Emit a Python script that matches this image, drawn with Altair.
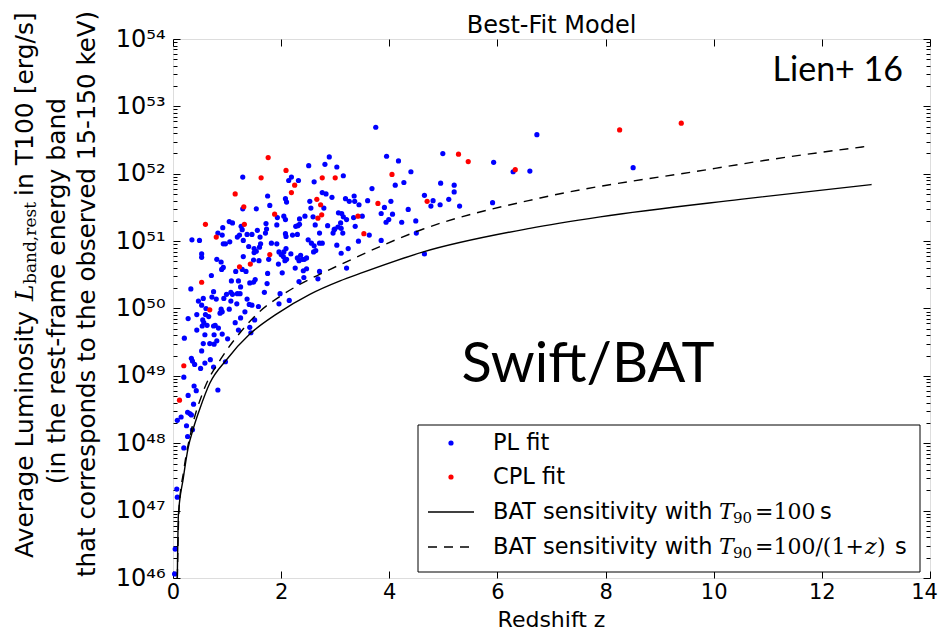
import altair as alt
import pandas as pd

# ---------------- data (redshift z, log10 luminosity) ----------------
pl_z = [2.89, 2.51, 2.81, 3.03, 1.29, 2.19, 2.14, 2.32, 2.61, 2.76, 2.83, 2.94, 1.75, 2.53, 2.55, 1.79, 2.08, 2.10,
        1.54, 1.29, 2.79, 3.06, 1.93, 2.05, 2.08, 2.34, 2.44, 2.59, 3.05, 2.86, 2.99, 1.04, 1.10, 0.92, 1.26, 1.28,
        1.23, 0.91, 0.83, 1.19, 1.37, 1.46, 1.56, 1.72, 1.71, 1.73, 1.92, 2.08, 2.09, 2.21, 2.30, 2.31, 2.34, 2.27,
        2.63, 2.71, 2.96, 2.98, 0.35, 0.49, 0.93, 1.05, 0.97, 1.30, 1.40, 1.50, 1.61, 1.62, 1.60, 1.50, 1.54, 1.82,
        1.92, 1.96, 2.00, 2.05, 2.09, 2.04, 2.10, 2.18, 2.30, 2.36, 2.39, 2.47, 2.50, 2.56, 2.61, 2.64, 2.60, 2.71,
        2.76, 3.03, 0.53, 0.53, 0.81, 0.89, 0.93, 1.16, 1.30, 1.28, 1.35, 1.49, 1.59, 1.77, 1.95, 2.07, 2.33, 2.43,
        0.71, 0.90, 1.08, 1.21, 1.25, 1.42, 1.52, 1.49, 1.75, 1.74, 2.02, 2.26, 2.41, 2.47, 2.42, 2.33, 2.68, 2.71,
        0.33, 0.75, 0.72, 0.80, 0.94, 0.99, 1.07, 1.10, 1.19, 1.24, 1.07, 0.56, 0.47, 0.53, 0.61, 0.44, 0.60, 0.66,
        0.55, 0.57, 0.54, 0.44, 0.63, 0.75, 0.84, 0.78, 0.76, 0.59, 0.89, 0.91, 0.87, 1.04, 1.18, 1.37, 1.41, 1.46,
        1.58, 1.33, 1.25, 1.15, 1.21, 1.42, 1.44, 1.51, 1.69, 1.98, 2.15, 1.96, 0.28, 0.21, 1.01, 0.91, 0.81, 0.68,
        0.56, 0.76, 0.53, 0.34, 0.36, 0.40, 0.51, 0.59, 0.69, 0.75, 0.97, 0.20, 0.39, 0.28, 0.43, 0.83, 0.38, 0.27,
        0.31, 0.34, 0.15, 0.08, 0.25, 0.36, 0.27, 0.20, 0.07, 0.08, 0.04, 0.03,
        3.75, 6.73, 3.95, 4.17, 5.93, 4.99, 6.29, 6.60, 4.40, 3.15, 3.68, 4.11, 4.27, 4.95, 5.20, 5.20, 4.65, 4.81,
        4.77, 4.94, 5.10, 5.30, 5.91, 3.19, 3.26, 3.35, 3.36, 3.44, 3.60, 4.03, 3.91, 3.85, 4.06, 4.35, 3.99, 3.94,
        4.23, 4.49, 4.50, 3.12, 3.15, 3.34, 3.50, 3.21, 3.10, 3.11, 3.14, 3.37, 3.63, 3.43, 3.85, 3.24, 3.11, 3.21,
        4.65, 8.51]
pl_logL = [52.25, 52.12, 52.14, 52.10, 51.95, 51.95, 51.90, 51.90, 51.88, 51.72, 51.70, 51.65, 51.67, 51.59, 51.49,
           51.53, 51.63, 51.58, 51.48, 51.48, 51.49, 51.42, 51.35, 51.37, 51.32, 51.33, 51.37, 51.36, 51.21, 51.23,
           51.18, 51.29, 51.27, 51.20, 51.22, 51.17, 51.09, 51.09, 51.12, 51.06, 51.10, 51.10, 51.16, 51.26, 51.12,
           51.18, 51.24, 51.11, 51.07, 51.09, 51.10, 51.23, 51.25, 51.22, 51.24, 51.12, 51.12, 51.17, 51.02, 51.01,
           50.96, 50.99, 50.96, 51.01, 50.92, 50.89, 51.06, 50.96, 50.91, 50.83, 50.85, 50.97, 50.96, 50.84, 50.80,
           50.84, 50.89, 50.77, 50.73, 50.81, 50.75, 50.79, 50.73, 50.75, 51.02, 50.97, 50.93, 50.86, 50.84, 50.97,
           50.97, 50.94, 50.81, 50.76, 50.73, 50.69, 50.61, 50.55, 50.77, 50.58, 50.55, 50.72, 50.71, 50.73, 50.66,
           50.71, 50.71, 50.73,
           50.49, 50.58, 50.41, 50.41, 50.32, 50.38, 50.43, 50.39, 50.52, 50.37, 50.53, 50.60, 50.56, 50.59, 50.46,
           50.40, 50.44, 50.55, 50.29, 50.25, 50.17, 50.14, 50.15, 50.21, 50.24, 50.21, 50.22, 50.22, 50.11, 50.15,
           50.11, 50.05, 50.00, 49.91, 49.91, 49.88, 49.83, 49.79, 49.74, 49.68, 49.75, 49.74, 49.71, 49.75, 49.61,
           49.61, 49.99, 49.95, 49.93, 49.99, 50.07, 50.14, 50.06, 50.05, 50.03, 49.95, 49.86, 49.79, 49.68, 49.72,
           49.64, 49.83, 50.24, 50.22, 50.12, 50.07, 49.85, 49.56, 49.55, 49.62, 49.52, 49.48, 49.48, 49.47, 49.37,
           49.26, 49.22, 49.17, 49.11, 49.19, 49.24, 49.13, 49.21, 48.98, 48.85, 48.71, 48.78, 48.79, 48.58, 48.46,
           48.44, 48.42, 48.39, 48.34, 48.26, 48.20, 48.10, 47.93, 47.32, 47.20, 46.43, 46.06,
           52.69, 52.58, 52.26, 52.19, 52.17, 52.30, 52.03, 52.04, 52.03, 51.97, 51.78, 51.83, 51.87, 51.86, 51.83,
           51.73, 51.68, 51.60, 51.52, 51.54, 51.62, 51.52, 51.57, 51.63, 51.59, 51.67, 51.59, 51.54, 51.60, 51.59,
           51.50, 51.41, 51.40, 51.47, 51.32, 51.28, 51.28, 51.30, 51.12, 51.41, 51.36, 51.35, 51.37, 51.32, 51.27,
           51.19, 51.12, 51.22, 51.09, 51.00, 51.01, 50.89, 50.82, 50.60, 50.81, 52.09]

cpl_z = [1.76, 2.09, 1.63, 2.76, 3.00, 2.25, 2.19, 1.15, 1.31, 2.66, 2.73, 1.88, 2.75, 2.68, 0.60, 1.32, 0.80, 1.79,
         1.43, 1.23, 0.53, 0.68, 0.20, 0.12, 5.28, 5.46, 6.33, 4.05, 3.79, 4.70, 3.42, 3.53, 8.26, 9.40]
cpl_logL = [52.24, 52.05, 51.94, 51.94, 51.94, 51.83, 51.72, 51.70, 51.51, 51.62, 51.54, 51.40, 51.39, 51.34, 51.25,
            51.25, 51.06, 50.80, 50.66, 50.62, 50.39, 49.98, 49.15, 48.64, 52.29, 52.18, 52.06, 51.99, 51.56, 51.59,
            51.37, 51.11, 52.65, 52.75]

solid_z = [0.08, 0.10, 0.19, 0.28, 0.38, 0.50, 0.68, 0.99, 1.42, 1.92, 2.53, 3.09, 3.46, 4.63, 6.60, 7.90,
           10.49, 12.92]
solid_logL = [46.0, 46.94, 47.48, 47.93, 48.23, 48.52, 48.89, 49.24, 49.62, 49.92, 50.21, 50.41, 50.52, 50.84,
              51.19, 51.36, 51.62, 51.84]

dashed_z = [0.08, 0.11, 0.20, 0.35, 0.56, 0.90, 1.24, 1.61, 1.98, 2.35, 2.72, 3.09, 4.63, 6.79, 9.87, 11.04,
            12.86]
dashed_logL = [46.0, 47.0, 47.6, 48.23, 48.77, 49.27, 49.64, 49.96, 50.18, 50.36, 50.51, 50.65, 51.18, 51.64,
               52.06, 52.21, 52.41]

x_ticks = [0, 2, 4, 6, 8, 10, 12, 14]
y_exps = [46, 47, 48, 49, 50, 51, 52, 53, 54]

# ---------------- build tables ----------------
pl = pd.DataFrame({"z": pl_z, "L": [10.0 ** v for v in pl_logL]})
cpl = pd.DataFrame({"z": cpl_z, "L": [10.0 ** v for v in cpl_logL]})
solid = pd.DataFrame({"z": solid_z, "L": [10.0 ** v for v in solid_logL]})
dashed = pd.DataFrame({"z": dashed_z, "L": [10.0 ** v for v in dashed_logL]})

W, H = 757, 539
FONT = "DejaVu Sans"
SERIF = "DejaVu Serif"
BLUE, RED = "#0000ff", "#ff0000"

xs = alt.Scale(domain=[0, 14], nice=False, zero=False)
ys = alt.Scale(type="log", domain=[1e46, 1e54], nice=False)

y_major = [10.0 ** e for e in y_exps]
y_minor = [m * 10.0 ** e for e in y_exps[:-1] for m in range(2, 10)]

SUP = str.maketrans("0123456789", "⁰¹²³⁴⁵⁶⁷⁸⁹")
label_expr = "''"
for e in reversed(y_exps):
    label_expr = f"round(log(datum.value)/LN10) == {e} ? '10{str(e).translate(SUP)}' : ({label_expr})"


def ax(orient, values, size, labels=False, **kw):
    return alt.Axis(orient=orient, values=values, tickSize=size, offset=-size, labels=labels,
                    domain=False, grid=False, tickColor="black", tickWidth=1, title=None, **kw)


lab = dict(labelFont=FONT, labelColor="black", labelFlush=False, labelOverlap=False)

blue = alt.Chart(pl).mark_circle(size=27, color=BLUE, opacity=1).encode(
    x=alt.X("z:Q", scale=xs, axis=ax("bottom", x_ticks, 7, labels=True, labelPadding=3, labelFontSize=21,
                                      labelOffset={"condition": {"test": "datum.value == 14", "value": -6},
                                                   "value": 0},
                                      **lab)),
    y=alt.Y("L:Q", scale=ys, axis=ax("left", y_major, 7, labels=True, labelExpr=label_expr,
                                      labelPadding=8, labelFontSize=24, **lab)),
)
red = alt.Chart(cpl).mark_circle(size=27, color=RED, opacity=1).encode(
    x=alt.X("z:Q", scale=xs, axis=None), y=alt.Y("L:Q", scale=ys, axis=None))

frame_major = alt.Chart(pl).mark_point(opacity=0).encode(
    x=alt.X("z:Q", scale=xs, axis=ax("top", x_ticks, 7)),
    y=alt.Y("L:Q", scale=ys, axis=ax("right", y_major, 7)))
minor_left = alt.Chart(pl).mark_point(opacity=0).encode(
    x=alt.X("z:Q", scale=xs, axis=None),
    y=alt.Y("L:Q", scale=ys, axis=ax("left", y_minor, 4)))
minor_right = alt.Chart(pl).mark_point(opacity=0).encode(
    x=alt.X("z:Q", scale=xs, axis=None),
    y=alt.Y("L:Q", scale=ys, axis=ax("right", y_minor, 4)))

sol = alt.Chart(solid).mark_line(color="black", strokeWidth=1.4, interpolate="monotone").encode(
    x=alt.X("z:Q", scale=xs, axis=None), y=alt.Y("L:Q", scale=ys, axis=None))
das = alt.Chart(dashed).mark_line(color="black", strokeWidth=1.4, strokeDash=[9, 7],
                                  interpolate="monotone").encode(
    x=alt.X("z:Q", scale=xs, axis=None), y=alt.Y("L:Q", scale=ys, axis=None))

one = alt.Data(values=[{}])


def txt(s, x, y, size=22, font=FONT, style="normal", align="left", baseline="middle", angle=None):
    kw = dict(text=s, fontSize=size, font=font, fontStyle=style, align=align, baseline=baseline, color="black")
    if angle is not None:
        kw["angle"] = angle
    return alt.Chart(one).mark_text(**kw).encode(x=alt.value(x), y=alt.value(y))


# legend
leg_box = alt.Chart(one).mark_rect(fill="white", stroke="black", strokeWidth=1).encode(
    x=alt.value(245), x2=alt.value(747), y=alt.value(386), y2=alt.value(533))
leg_pl = alt.Chart(one).mark_circle(size=27, color=BLUE, opacity=1).encode(x=alt.value(278), y=alt.value(404))
leg_cpl = alt.Chart(one).mark_circle(size=27, color=RED, opacity=1).encode(x=alt.value(278), y=alt.value(438))
leg_sol = alt.Chart(one).mark_rule(color="black", strokeWidth=1.4).encode(
    x=alt.value(255), x2=alt.value(301), y=alt.value(473))
leg_das = alt.Chart(one).mark_rule(color="black", strokeWidth=1.4, strokeDash=[9, 7]).encode(
    x=alt.value(255), x2=alt.value(301), y=alt.value(508))

legend_texts = [
    txt("PL fit", 320, 404, size=22.5),
    txt("CPL fit", 320, 438, size=22.5),
    txt("BAT sensitivity with", 320, 473, size=22.5),
    txt("T", 546, 473, font=SERIF, style="italic"),
    txt("90", 560, 479, size=15, font=SERIF),
    txt("=100", 582, 473, font=SERIF),
    txt("s", 647, 473, size=22.5),
    txt("BAT sensitivity with", 320, 508, size=22.5),
    txt("T", 546, 508, font=SERIF, style="italic"),
    txt("90", 560, 514, size=15, font=SERIF),
    txt("=100/(1+", 582, 508, font=SERIF),
    txt("z", 692, 508, font=SERIF, style="italic"),
    txt(")", 704, 508, font=SERIF),
    txt("s", 722, 508, size=22.5),
]

titles = [
    txt("Best-Fit Model", W / 2, -6, size=24, align="center", baseline="alphabetic"),
    txt("Redshift z", W / 2, 588, size=22, align="center", baseline="alphabetic"),
    txt("Lien+ 16", 730, 42, size=34, font="Lato", align="right", baseline="alphabetic"),
    txt("Swift/BAT", 415, 343, size=56, font="Lato", align="center", baseline="alphabetic"),
    # y title, three rotated lines
    txt("Average Luminosity", -148, 519, size=25, angle=270),
    txt("L", -148, 262, size=25, font=SERIF, style="italic", angle=270),
    txt("band,rest", -142, 245, size=17, font=SERIF, angle=270),
    txt("in T100 [erg/s]", -148, 157, size=25, angle=270),
    txt("(in the rest-frame energy band", -116, 252, size=25, align="center", angle=270),
    txt("that corresponds to the observed 15-150 keV)", -85, 255, size=24.5, align="center", angle=270),
]

chart = alt.layer(
    blue, red, frame_major, minor_left, minor_right, sol, das,
    leg_box, leg_pl, leg_cpl, leg_sol, leg_das, *legend_texts, *titles
).properties(
    width=W, height=H,
    autosize=alt.AutoSizeParams(type="none"),
    padding={"left": 165, "top": 31, "right": 9, "bottom": 54},
).resolve_axis(x="independent", y="independent").configure_view(
    stroke="black", strokeWidth=1.5
).configure(font=FONT)

chart.save("out.html", embed_options={"renderer": "svg", "actions": False})
